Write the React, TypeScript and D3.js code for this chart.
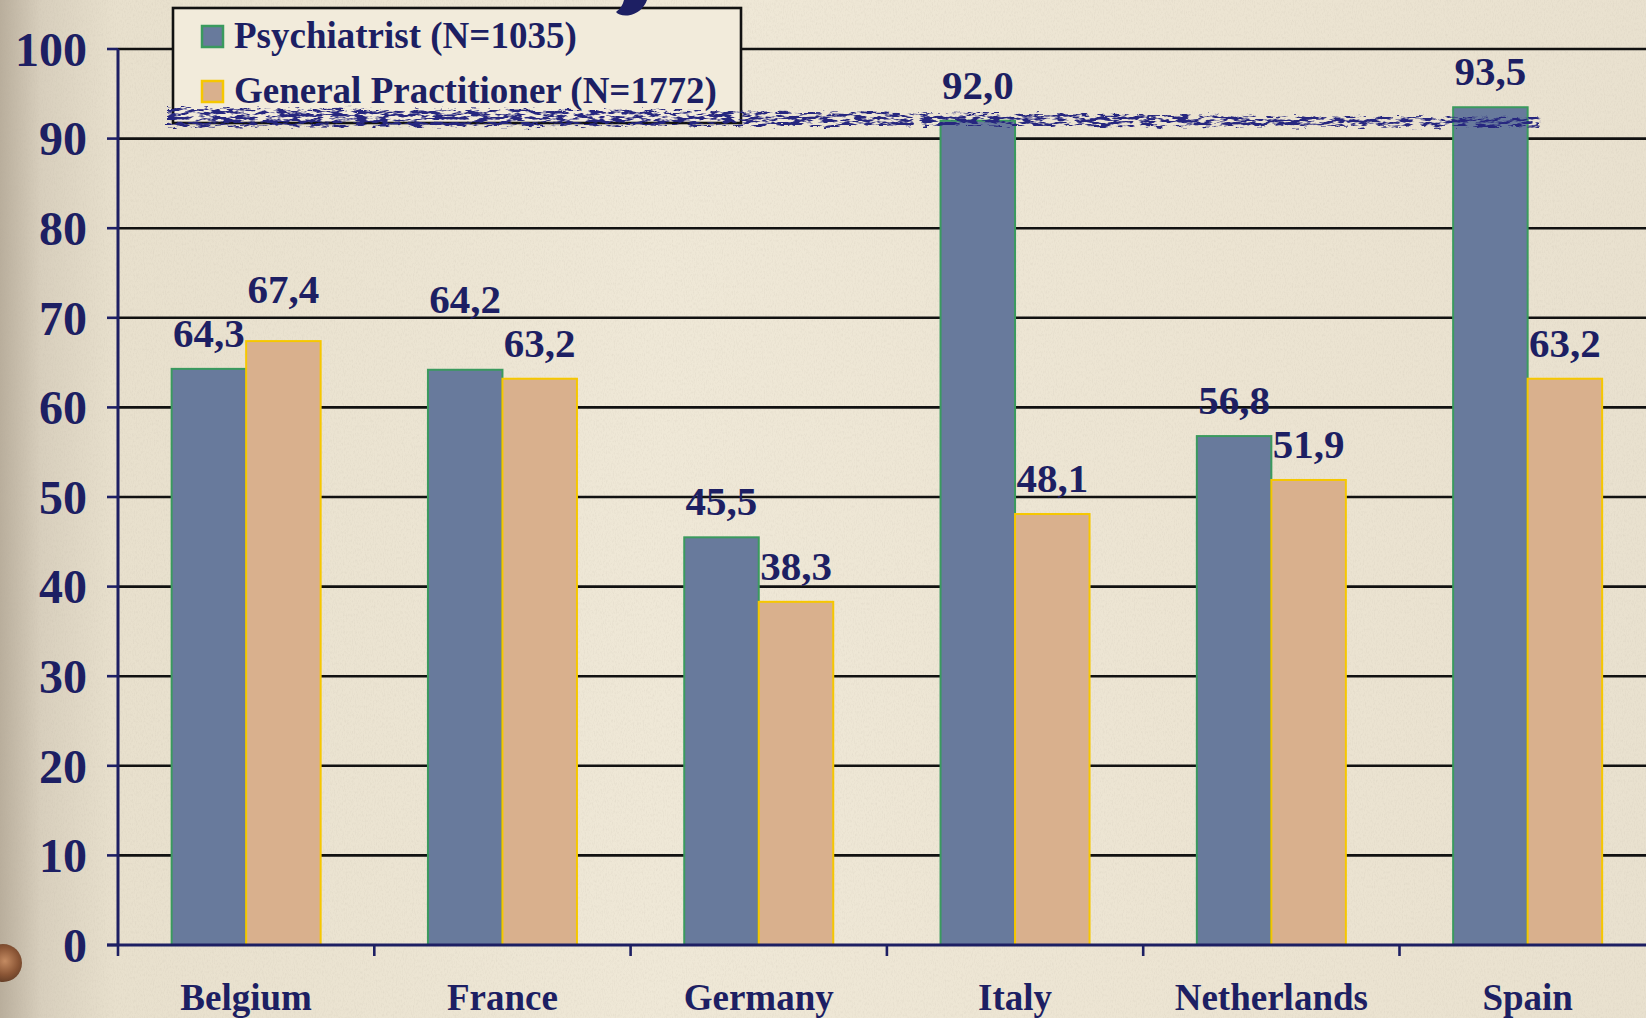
import React from "react";
import * as d3 from "d3";

const categories = ["Belgium", "France", "Germany", "Italy", "Netherlands", "Spain"];
const psychiatrist = [64.3, 64.2, 45.5, 92.0, 56.8, 93.5];
const generalPractitioner = [67.4, 63.2, 38.3, 48.1, 51.9, 63.2];
const seriesKeys = ["psy", "gp"];
const seriesLabels = ["Psychiatrist (N=1035)", "General Practitioner (N=1772)"];
const yTicks = [0, 10, 20, 30, 40, 50, 60, 70, 80, 90, 100];

const W = 1646;
const H = 1018;
const NAVY = "#1d1f63";
const fills = { psy: "#687a9c", gp: "#d9b08d" };
const strokes = { psy: "#3a9a5e", gp: "#f6c700" };

const fmt = (v: number) => v.toFixed(1).replace(".", ",");

const LABEL_GAP = 22;
const LABEL_SEP = 44;

export default function App() {
  const left = 118;
  const step = 256.3;
  const x = d3
    .scaleBand<string>()
    .domain(categories)
    .range([left, left + categories.length * step])
    .padding(0);
  const x1 = d3
    .scaleBand<string>()
    .domain(seriesKeys)
    .range([0, x.bandwidth()])
    .paddingInner(0)
    .paddingOuter(0.72);
  const y = d3.scaleLinear().domain([0, 100]).range([945, 49]);

  const rows = categories.map((c, i) => {
    const values = [
      { key: "psy", v: psychiatrist[i], ly: y(psychiatrist[i]) - LABEL_GAP },
      { key: "gp", v: generalPractitioner[i], ly: y(generalPractitioner[i]) - LABEL_GAP },
    ];
    // keep the two labels of a group from colliding: lift the taller bar's label
    const [a, b] = values;
    if (Math.abs(a.ly - b.ly) < LABEL_SEP) {
      const hi = a.v >= b.v ? a : b;
      const lo = hi === a ? b : a;
      hi.ly = lo.ly - LABEL_SEP;
    }
    return { cat: c, values };
  });

  const font = "'Liberation Serif', 'DejaVu Serif', serif";
  const bounds = d3.range(categories.length).map((i) => left + i * step);

  return (
    <svg
      width={W}
      height={H}
      viewBox={`0 0 ${W} ${H}`}
      style={{ position: "absolute", left: 0, top: 0, display: "block" }}
      fontFamily={font}
    >
      <defs>
        <linearGradient id="paper" x1="0" y1="0" x2="1" y2="0">
          <stop offset="0" stopColor="#b9ae9c" />
          <stop offset="0.025" stopColor="#d8cfbd" />
          <stop offset="0.07" stopColor="#e8e0cd" />
          <stop offset="0.4" stopColor="#efe8d7" />
          <stop offset="0.75" stopColor="#ece4d2" />
          <stop offset="1" stopColor="#e9e1cf" />
        </linearGradient>
        <radialGradient id="knob" cx="0.55" cy="0.45" r="0.6">
          <stop offset="0" stopColor="#c48b62" />
          <stop offset="0.6" stopColor="#8a5535" />
          <stop offset="1" stopColor="#5e3a24" />
        </radialGradient>
        <filter id="grain" x="0" y="0" width="100%" height="100%">
          <feTurbulence type="fractalNoise" baseFrequency="0.9 0.35" numOctaves="3" seed="7" />
          <feColorMatrix
            type="matrix"
            values="0 0 0 0 0.45  0 0 0 0 0.40  0 0 0 0 0.33  0 0 0 -1.6 0.9"
          />
        </filter>
        <filter id="brush" x="-2%" y="-100%" width="104%" height="300%">
          <feTurbulence type="fractalNoise" baseFrequency="0.09 0.35" numOctaves="3" seed="11" result="noise" />
          <feDisplacementMap in="SourceGraphic" in2="noise" scale="10" xChannelSelector="R" yChannelSelector="G" result="disp" />
          <feColorMatrix
            in="noise"
            type="matrix"
            values="0 0 0 0 0  0 0 0 0 0  0 0 0 0 0  7 0 0 0 -3.0"
            result="mask"
          />
          <feComposite in="disp" in2="mask" operator="in" />
        </filter>
      </defs>

      <rect x={0} y={0} width={W} height={H} fill="url(#paper)" />
      <rect x={0} y={0} width={W} height={H} filter="url(#grain)" opacity={0.18} />
      <circle cx={3} cy={963} r={19} fill="url(#knob)" />

      {/* horizontal grid */}
      {yTicks
        .filter((t) => t > 0)
        .map((t) => (
          <line key={t} x1={left} x2={W} y1={y(t)} y2={y(t)} stroke="#111" strokeWidth={2.6} />
        ))}

      {/* bars */}
      {rows.map((r) => (
        <g key={r.cat} transform={`translate(${x(r.cat)},0)`}>
          {r.values.map((d) => (
            <rect
              key={d.key}
              x={x1(d.key)}
              y={y(d.v)}
              width={x1.bandwidth()}
              height={y(0) - y(d.v)}
              fill={fills[d.key as "psy" | "gp"]}
              stroke={strokes[d.key as "psy" | "gp"]}
              strokeWidth={2}
            />
          ))}
        </g>
      ))}

      {/* value labels */}
      {rows.map((r) =>
        r.values.map((d) => (
          <text
            key={r.cat + d.key}
            x={(x(r.cat) as number) + (x1(d.key) as number) + x1.bandwidth() / 2}
            y={d.ly}
            textAnchor="middle"
            fontSize={41}
            fontWeight="bold"
            fill={NAVY}
          >
            {fmt(d.v)}
          </text>
        ))
      )}

      {/* y axis */}
      <line x1={left} x2={left} y1={y(100)} y2={y(0)} stroke={NAVY} strokeWidth={3} />
      {yTicks.map((t) => (
        <g key={t}>
          <line x1={left - 11} x2={left} y1={y(t)} y2={y(t)} stroke={NAVY} strokeWidth={2.6} />
          <text
            x={87}
            y={y(t)}
            dy="0.35em"
            textAnchor="end"
            fontSize={48}
            fontWeight="bold"
            fill={NAVY}
          >
            {t}
          </text>
        </g>
      ))}

      {/* x axis */}
      <line x1={left - 11} x2={W} y1={y(0)} y2={y(0)} stroke={NAVY} strokeWidth={3.2} />
      {bounds.map((b) => (
        <line key={b} x1={b} x2={b} y1={y(0)} y2={y(0) + 11} stroke={NAVY} strokeWidth={2.6} />
      ))}
      {categories.map((c) => (
        <text
          key={c}
          x={(x(c) as number) + x.bandwidth() / 2}
          y={1010}
          textAnchor="middle"
          fontSize={37}
          fontWeight="bold"
          fill={NAVY}
        >
          {c}
        </text>
      ))}

      {/* legend */}
      <rect x={173} y={8} width={568} height={115} fill="#f2ebdb" stroke="#111" strokeWidth={2.6} />
      {seriesKeys.map((k, i) => (
        <g key={k} transform={`translate(202,${26 + i * 55})`}>
          <rect
            x={0}
            y={0}
            width={21}
            height={21}
            fill={fills[k as "psy" | "gp"]}
            stroke={strokes[k as "psy" | "gp"]}
            strokeWidth={2.5}
          />
          <text x={32} y={22} fontSize={37} fontWeight="bold" fill={NAVY}>
            {seriesLabels[i]}
          </text>
        </g>
      ))}

      {/* brush underline of the slide heading */}
      <path
        d="M168,108 L600,110 L1000,114 L1540,118 L1540,127 L1000,126 L600,126 L168,127 Z"
        fill="#27287f"
        filter="url(#brush)"
      />
      {/* descender of the slide heading */}
      <path
        d="M624,0 L647,0 C644,8 638,14 628,15.5 C622,16 618,14.5 616,12 C620,9 623,5 624,0 Z"
        fill={NAVY}
      />
    </svg>
  );
}
